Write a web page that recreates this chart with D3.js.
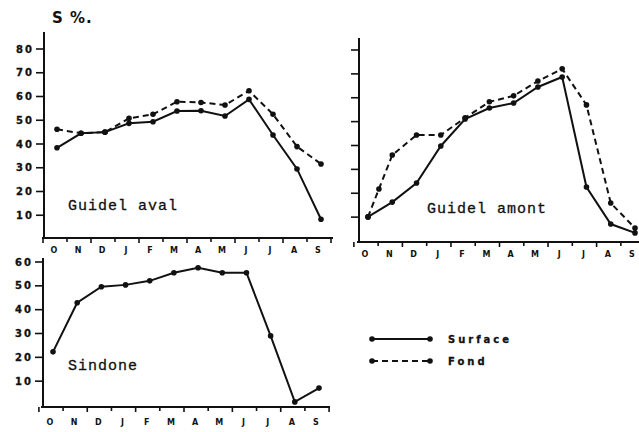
<!DOCTYPE html>
<html>
<head>
<meta charset="utf-8">
<script src="https://cdn.jsdelivr.net/npm/d3@7"></script>
<style>
  body { margin: 0; background: #fff; }
  svg { display: block; }
  .tick-label { font-family: "DejaVu Sans", sans-serif; font-weight: bold; font-size: 10px; letter-spacing: 2px; fill: #111; stroke: #111; stroke-width: 0.3px; }
  .month-label { font-family: "DejaVu Sans", sans-serif; font-weight: bold; font-size: 8px; fill: #111; }
  .title { font-family: "Liberation Mono", monospace; font-size: 15px; letter-spacing: 1px; fill: #111; stroke: #111; stroke-width: 0.3px; }
  .legend { font-family: "DejaVu Sans", sans-serif; font-weight: bold; font-size: 10px; letter-spacing: 3px; fill: #111; stroke: #111; stroke-width: 0.3px; }
</style>
</head>
<body>
<script>
var months = ["O", "N", "D", "J", "F", "M", "A", "M", "J", "J", "A", "S"];
var monthIdx = [0, 1, 2, 3, 4, 5, 6, 7, 8, 9, 10, 11];

// Guidel aval
var avalSurface = [38.4, 44.5, 45, 48.7, 49.4, 53.9, 54, 51.8, 58.8, 43.8, 29.5, 8.3];
var avalFond = [46.2, 44.5, 45, 50.8, 52.5, 57.8, 57.5, 56.4, 62.4, 52.5, 38.9, 31.6];

// Guidel amont (fond has one extra reading between O and N)
var amontSurface = [10.1, 16.3, 24.3, 39.8, 51.1, 55.7, 57.8, 64.5, 68.7, 22.6, 7.1, 3.4];
var amontFondIdx = [0, 0.45, 1, 2, 3, 4, 5, 6, 7, 8, 9, 10, 11];
var amontFond = [10.1, 21.8, 36, 44.4, 44.4, 51.6, 58.3, 60.8, 67, 72.1, 57, 15.9, 5.4];

// Sindone
var sindone = [22.3, 42.9, 49.6, 50.4, 52.1, 55.5, 57.6, 55.5, 55.5, 29, 1.3, 7.1];

var ticksTop = [10, 20, 30, 40, 50, 60, 70, 80];
var ticksBottom = [10, 20, 30, 40, 50, 60];

var width = 639, height = 432;
var svg = d3.select("body").append("svg").attr("width", width).attr("height", height);

var ink = "#111";

function panel(opt) {
    var g = svg.append("g");
    var x = d3.scaleLinear().domain([0, 11]).range([opt.x0, opt.x1]);
    var y = d3.scaleLinear().domain([0, opt.vmax]).range([opt.yBase, opt.yTop]);

    // y axis
    g.append("line")
        .attr("x1", opt.axisX).attr("x2", opt.axisX)
        .attr("y1", opt.axisTop).attr("y2", opt.axisY)
        .attr("stroke", ink).attr("stroke-width", 2);
    g.selectAll(".ytick").data(opt.ticks).enter().append("line")
        .attr("x1", opt.axisX - 8).attr("x2", opt.axisX)
        .attr("y1", function(d) { return y(d); })
        .attr("y2", function(d) { return y(d); })
        .attr("stroke", ink).attr("stroke-width", 1.6);
    if (opt.labels) {
        g.selectAll(".ylab").data(opt.ticks).enter().append("text")
            .attr("class", "tick-label")
            .attr("x", opt.axisX - 10)
            .attr("y", function(d) { return y(d); })
            .attr("dy", "0.36em")
            .attr("text-anchor", "end")
            .text(function(d) { return d; });
    }

    // x axis
    g.append("line")
        .attr("x1", opt.axisX - 2).attr("x2", opt.axisRight)
        .attr("y1", opt.axisY).attr("y2", opt.axisY)
        .attr("stroke", ink).attr("stroke-width", 2);
    var bounds = d3.range(-0.5, 12, 1);
    g.selectAll(".xtick").data(bounds).enter().append("line")
        .attr("x1", function(d) { return x(d) - 2; })
        .attr("x2", function(d) { return x(d) - 2; })
        .attr("y1", opt.axisY)
        .attr("y2", function(d, i) { return opt.axisY + (i % 2 ? 4 : 5); })
        .attr("stroke", ink).attr("stroke-width", 1.6);
    g.selectAll(".xlab").data(months).enter().append("text")
        .attr("class", "month-label")
        .attr("x", function(d, i) { return x(i) - 3; })
        .attr("y", opt.axisY + opt.labelDy)
        .attr("text-anchor", "middle")
        .text(function(d) { return d; });

    // series
    opt.series.forEach(function(s) {
        var pts = s.values.map(function(v, i) { return [x(s.idx[i]), y(v)]; });
        g.append("path")
            .attr("d", d3.line()(pts))
            .attr("fill", "none")
            .attr("stroke", ink)
            .attr("stroke-width", 2)
            .attr("stroke-dasharray", s.dashed ? "6,4" : null);
        g.selectAll(null).data(pts).enter().append("circle")
            .attr("cx", function(d) { return d[0]; })
            .attr("cy", function(d) { return d[1]; })
            .attr("r", 2.8)
            .attr("fill", ink);
    });

    g.append("text")
        .attr("class", "title")
        .attr("x", opt.titleX).attr("y", opt.titleY)
        .text(opt.title);
}

panel({
    x0: 57, x1: 321, yBase: 239, yTop: 49, vmax: 80,
    axisX: 44, axisTop: 32, axisY: 238, axisRight: 333, labelDy: 15,
    ticks: ticksTop, labels: true,
    title: "Guidel aval", titleX: 68, titleY: 210,
    series: [
        { values: avalSurface, idx: monthIdx, dashed: false },
        { values: avalFond, idx: monthIdx, dashed: true }
    ]
});

panel({
    x0: 368, x1: 635, yBase: 241, yTop: 50, vmax: 80,
    axisX: 359, axisTop: 38, axisY: 242, axisRight: 639, labelDy: 15,
    ticks: ticksTop, labels: false,
    title: "Guidel amont", titleX: 427, titleY: 213,
    series: [
        { values: amontSurface, idx: monthIdx, dashed: false },
        { values: amontFond, idx: amontFondIdx, dashed: true }
    ]
});

panel({
    x0: 53, x1: 319, yBase: 405, yTop: 262, vmax: 60,
    axisX: 43, axisTop: 258, axisY: 407, axisRight: 330, labelDy: 18,
    ticks: ticksBottom, labels: true,
    title: "Sindone", titleX: 68, titleY: 370,
    series: [
        { values: sindone, idx: monthIdx, dashed: false }
    ]
});

// unit label
svg.append("text")
    .attr("x", 52).attr("y", 23)
    .attr("font-family", "DejaVu Sans, sans-serif")
    .attr("font-weight", "bold")
    .attr("font-size", 15)
    .attr("letter-spacing", 1)
    .attr("fill", ink)
    .text("S %.");

// legend
var legendItems = [
    { name: "Surface", dashed: false, y: 339 },
    { name: "Fond", dashed: true, y: 361 }
];
var lg = svg.append("g");
legendItems.forEach(function(d) {
    lg.append("line")
        .attr("x1", 372).attr("x2", 430)
        .attr("y1", d.y).attr("y2", d.y)
        .attr("stroke", ink).attr("stroke-width", 2)
        .attr("stroke-dasharray", d.dashed ? "6,4" : null);
    lg.selectAll(null).data([372, 430]).enter().append("circle")
        .attr("cx", function(v) { return v; })
        .attr("cy", d.y).attr("r", 2.8).attr("fill", ink);
    lg.append("text")
        .attr("class", "legend")
        .attr("x", 448).attr("y", d.y + 4)
        .text(d.name);
});
</script>
</body>
</html>
